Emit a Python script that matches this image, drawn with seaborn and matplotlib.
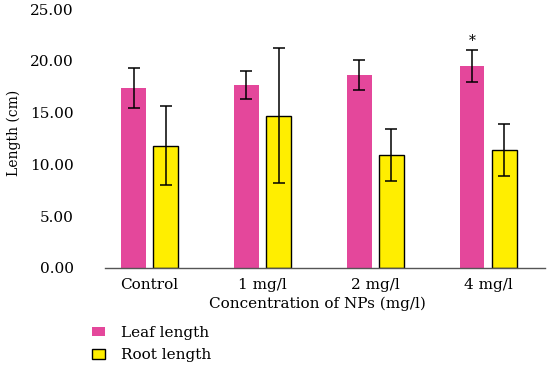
import pandas as pd
import numpy as np
import matplotlib
matplotlib.use("Agg")
import matplotlib.pyplot as plt
import seaborn as sns
from matplotlib.patches import Patch

# values
groups = ["Control", "1 mg/l", "2 mg/l", "4 mg/l"]
leaf_mean = [17.4, 17.7, 18.6, 19.5]
leaf_sd = [1.95, 1.35, 1.45, 1.55]
root_mean = [11.8, 14.7, 10.9, 11.4]
root_sd = [3.8, 6.5, 2.55, 2.55]
series = ["Leaf length", "Root length"]
yticks = [0, 5, 10, 15, 20, 25]

data = pd.DataFrame({
    "group": groups * 2,
    "length": leaf_mean + root_mean,
    "sd": leaf_sd + root_sd,
    "series": [series[0]] * 4 + [series[1]] * 4,
})

sns.set_style("white")
plt.rcParams["font.family"] = ["DejaVu Serif"]
plt.rcParams["text.color"] = "black"
plt.rcParams["axes.labelcolor"] = "black"
plt.rcParams["xtick.color"] = "black"
plt.rcParams["ytick.color"] = "black"

fig = plt.figure(figsize=(5.5, 3.66), dpi=100)
ax = fig.add_axes([0.19, 0.268, 0.80, 0.707])

sns.barplot(data=data, x="group", y="length", hue="series", order=groups,
            hue_order=series, palette=["#E4479B", "#FFEE00"], saturation=1,
            width=0.57, gap=0.23, errorbar=None, legend=False, ax=ax)

# edges: leaf bars without edge, root bars with a black edge
n = len(groups)
for i, p in enumerate(ax.patches[:2 * n]):
    if i < n:
        p.set_edgecolor("none")
    else:
        p.set_edgecolor("black")
        p.set_linewidth(1.0)

# error bars at the bar centres
for i, p in enumerate(ax.patches[:2 * n]):
    row = data.iloc[i]
    cx = p.get_x() + p.get_width() / 2
    ax.errorbar(cx, row["length"], yerr=row["sd"], color="black",
                elinewidth=1.1, capsize=4, capthick=1.1)

# significance mark above 4 mg/l leaf bar
p = ax.patches[n - 1]
ax.text(p.get_x() + p.get_width() / 2, leaf_mean[3] + leaf_sd[3] + 0.2, "*",
        ha="center", va="bottom", fontsize=10)

ax.set_ylim(0, 25)
ax.set_xlim(-0.4, 3.5)
ax.set_yticks(yticks)
ax.set_yticklabels([f"{v:.2f}" for v in yticks], fontsize=11)
ax.tick_params(axis="y", length=0, pad=22)
ax.tick_params(axis="x", length=0, pad=7, labelsize=11)
ax.set_xlabel("Concentration of NPs (mg/l)", fontsize=11)
ax.xaxis.set_label_coords(0.485, -0.11)
ax.set_ylabel("Length (cm)", fontsize=10)
ax.yaxis.set_label_coords(-0.19, 0.52)

sns.despine(ax=ax, left=True)
ax.spines["bottom"].set_color("#555555")
ax.spines["bottom"].set_linewidth(1.0)

# legend below the plot
handles = [Patch(facecolor="#E4479B", edgecolor="none"),
           Patch(facecolor="#FFEE00", edgecolor="black", linewidth=1.0)]
fig.legend(handles, series, loc="upper left", bbox_to_anchor=(0.168, 0.11),
           frameon=False, fontsize=11, handlelength=0.85, handleheight=0.6,
           handletextpad=1.0, labelspacing=0.55, borderaxespad=0, borderpad=0)

fig.savefig("out.png", dpi=100)
